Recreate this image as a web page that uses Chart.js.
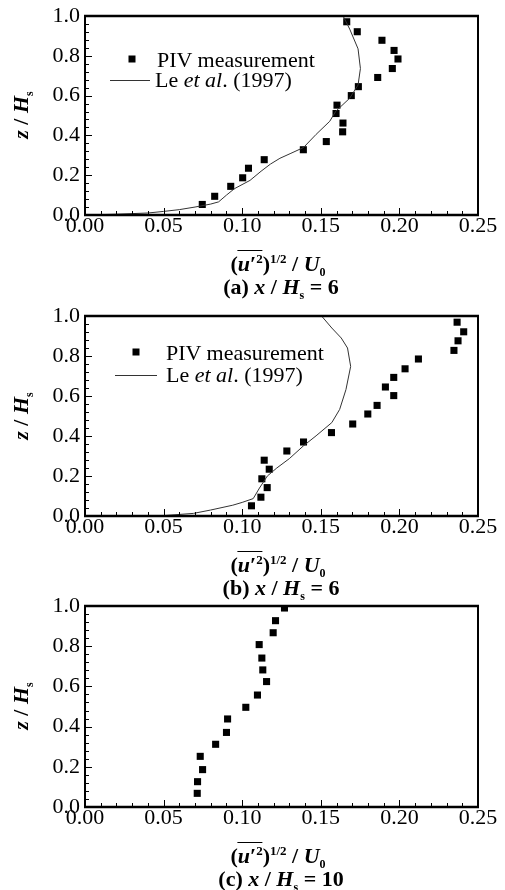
<!DOCTYPE html>
<html>
<head>
<meta charset="utf-8">
<script src="https://cdn.jsdelivr.net/npm/chart.js@4.4.0/dist/chart.umd.min.js"></script>
<style>
  html, body { margin: 0; padding: 0; background: #fff; }
  #page { position: relative; width: 505px; height: 890px; overflow: hidden; font-family: 'Liberation Serif', 'Times New Roman', serif; color: #000; }
  canvas { position: absolute; left: 0; }
  .lbl { position: absolute; white-space: nowrap; transform: translate(-50%, -50%); font-weight: bold; font-size: 22px; line-height: 1; }
  .lbl sub { font-size: 12px; vertical-align: -5px; }
  .lbl sup { font-size: 13px; vertical-align: 8px; }
  .ov { display: inline-block; border-top: 1.5px solid #000; padding-top: 1px; line-height: 1; }
  .ylab { transform: translate(-50%, -50%) rotate(-90deg); }
  .leg { position: absolute; font-size: 22px; line-height: 1; white-space: nowrap; transform: translateY(-50%); }
  .sq { position: absolute; width: 7px; height: 7px; background: #000; transform: translate(-50%, -50%); }
  .ln { position: absolute; height: 1px; background: #333; }
</style>
</head>
<body>
<div id="page">
  <canvas id="chartA" width="505" height="300" style="top:0px"></canvas>
  <canvas id="chartB" width="505" height="290" style="top:300px"></canvas>
  <canvas id="chartC" width="505" height="300" style="top:590px"></canvas>

  <!-- legends -->
  <div class="sq" style="left:132px; top:59px"></div>
  <div class="leg" style="left:157px; top:60px">PIV measurement</div>
  <div class="ln" style="left:110px; top:80px; width:40px"></div>
  <div class="leg" style="left:155px; top:80px">Le <i>et al</i>. (1997)</div>

  <div class="sq" style="left:136px; top:352px"></div>
  <div class="leg" style="left:166px; top:353px">PIV measurement</div>
  <div class="ln" style="left:115px; top:375px; width:42px"></div>
  <div class="leg" style="left:166px; top:375px">Le <i>et al</i>. (1997)</div>

  <!-- axis titles and captions -->
  <div class="lbl ylab" style="left:22px; top:115px"><i>z</i> / <i>H</i><sub>s</sub></div>
  <div class="lbl" style="left:278px; top:264px">(<span class="ov"><i>u</i>′<sup>2</sup></span>)<sup>1/2</sup> / <i>U</i><sub>0</sub></div>
  <div class="lbl" style="left:281px; top:288px">(a) <i>x</i> / <i>H</i><sub>s</sub> = 6</div>

  <div class="lbl ylab" style="left:22px; top:416px"><i>z</i> / <i>H</i><sub>s</sub></div>
  <div class="lbl" style="left:278px; top:565px">(<span class="ov"><i>u</i>′<sup>2</sup></span>)<sup>1/2</sup> / <i>U</i><sub>0</sub></div>
  <div class="lbl" style="left:281px; top:589px">(b) <i>x</i> / <i>H</i><sub>s</sub> = 6</div>

  <div class="lbl ylab" style="left:22px; top:706px"><i>z</i> / <i>H</i><sub>s</sub></div>
  <div class="lbl" style="left:278px; top:856px">(<span class="ov"><i>u</i>′<sup>2</sup></span>)<sup>1/2</sup> / <i>U</i><sub>0</sub></div>
  <div class="lbl" style="left:281px; top:880px">(c) <i>x</i> / <i>H</i><sub>s</sub> = 10</div>
</div>

<script>
// (a) x/Hs = 6
const pivAx = [0.0746, 0.0825, 0.0927, 0.1003, 0.1040, 0.1140, 0.1389, 0.1535, 0.1639, 0.1641, 0.1597,
  0.1603, 0.1694, 0.1739, 0.1862, 0.1955, 0.1991, 0.1966, 0.1889, 0.1732, 0.1665];
const pivAz = [0.053, 0.094, 0.144, 0.187, 0.235, 0.278, 0.328, 0.369, 0.418, 0.462, 0.510,
  0.552, 0.600, 0.645, 0.691, 0.736, 0.784, 0.827, 0.878, 0.921, 0.971];
const leAx = [0.000, 0.020, 0.040, 0.050, 0.060, 0.070, 0.080, 0.085, 0.090, 0.095, 0.105, 0.112, 0.118,
  0.124, 0.131, 0.139, 0.147, 0.1557, 0.1595, 0.1684, 0.1737, 0.1752, 0.1737, 0.1684, 0.1642];
const leAz = [0.000, 0.004, 0.010, 0.018, 0.027, 0.040, 0.055, 0.066, 0.100, 0.132, 0.174, 0.220, 0.256,
  0.285, 0.310, 0.339, 0.405, 0.471, 0.521, 0.587, 0.653, 0.736, 0.835, 0.934, 1.000];

// (b) x/Hs = 6
const pivBx = [0.1059, 0.1119, 0.1159, 0.1125, 0.1172, 0.1140, 0.1284, 0.1390, 0.1568, 0.1703, 0.1799,
  0.1858, 0.1964, 0.1911, 0.1964, 0.2036, 0.2121, 0.2347, 0.2373, 0.2409, 0.2367];
const pivBz = [0.051, 0.094, 0.142, 0.186, 0.234, 0.279, 0.325, 0.370, 0.417, 0.460, 0.510,
  0.553, 0.602, 0.645, 0.693, 0.736, 0.785, 0.828, 0.876, 0.921, 0.969];
const leBx = [0.000, 0.050, 0.069, 0.080, 0.094, 0.100, 0.107, 0.111, 0.116, 0.122, 0.130, 0.139, 0.147,
  0.157, 0.162, 0.166, 0.169, 0.167, 0.163, 0.157, 0.1505];
const leBz = [0.000, 0.002, 0.013, 0.030, 0.054, 0.068, 0.087, 0.140, 0.200, 0.240, 0.287, 0.351, 0.401,
  0.467, 0.533, 0.632, 0.748, 0.840, 0.890, 0.940, 1.000];

// (c) x/Hs = 10
const pivCx = [0.0714, 0.0716, 0.0748, 0.0733, 0.0831, 0.0900, 0.0907, 0.1023, 0.1097, 0.1155, 0.1131,
  0.1125, 0.1108, 0.1197, 0.1212, 0.1269];
const pivCz = [0.068, 0.126, 0.186, 0.252, 0.312, 0.371, 0.438, 0.496, 0.557, 0.624, 0.682,
  0.741, 0.808, 0.867, 0.927, 0.990];

const xTicks = [0, 0.05, 0.10, 0.15, 0.20, 0.25];
const zTicks = [0, 0.2, 0.4, 0.6, 0.8, 1.0];

const FONT = "'Liberation Serif', 'Times New Roman', serif";

const toPoints = (xs, zs) => xs.map((x, i) => ({ x, y: zs[i] }));

// frame + inward major/minor ticks on the bottom and left axes
const frameTicks = {
  id: 'frameTicks',
  afterDraw(chart) {
    const { ctx, chartArea: a, scales: { x, y } } = chart;
    ctx.save();
    ctx.strokeStyle = '#000';
    ctx.lineWidth = 1;
    ctx.beginPath();
    for (let i = 0; i <= 25; i += 1) {
      const px = Math.round(x.getPixelForValue(i / 100)) + 0.5;
      const len = i % 5 === 0 ? 7 : 4;
      ctx.moveTo(px, a.bottom);
      ctx.lineTo(px, a.bottom - len);
    }
    for (let i = 0; i <= 25; i += 1) {
      const py = Math.round(y.getPixelForValue(i * 0.04)) + 0.5;
      const len = i % 5 === 0 ? 7 : 4;
      ctx.moveTo(a.left, py);
      ctx.lineTo(a.left + len, py);
    }
    ctx.stroke();

    ctx.lineWidth = 2.5;
    ctx.beginPath();
    ctx.moveTo(a.left - 1, a.top);
    ctx.lineTo(a.right + 1, a.top);
    ctx.moveTo(a.left - 1, a.bottom);
    ctx.lineTo(a.right + 1, a.bottom);
    ctx.stroke();
    ctx.lineWidth = 2;
    ctx.beginPath();
    ctx.moveTo(a.left, a.top);
    ctx.lineTo(a.left, a.bottom);
    ctx.moveTo(a.right, a.top);
    ctx.lineTo(a.right, a.bottom);
    ctx.stroke();
    ctx.restore();
  },
};

function makePanel(id, padTop, axisHeight, piv, le) {
  const datasets = [];
  if (le) {
    datasets.push({
      label: 'Le et al. (1997)',
      data: le,
      showLine: true,
      borderColor: '#333',
      borderWidth: 1,
      pointRadius: 0,
      tension: 0,
    });
  }
  datasets.push({
    label: 'PIV measurement',
    data: piv,
    pointStyle: 'rect',
    pointRadius: 5,
    pointBorderWidth: 0,
    backgroundColor: '#000',
    borderColor: '#000',
  });

  const tickFont = { family: FONT, size: 22, lineHeight: 1 };

  // eslint-disable-next-line no-new
  new Chart(document.getElementById(id), {
    type: 'scatter',
    data: { datasets },
    options: {
      responsive: false,
      animation: false,
      layout: { padding: { top: padTop, right: 27, left: 0, bottom: 0 } },
      plugins: { legend: { display: false }, tooltip: { enabled: false } },
      scales: {
        x: {
          type: 'linear',
          min: 0,
          max: 0.25,
          afterFit(scale) { scale.height = axisHeight; },
          afterBuildTicks(scale) { scale.ticks = xTicks.map((v) => ({ value: v })); },
          ticks: {
            callback: (v) => Number(v).toFixed(2),
            font: tickFont,
            color: '#000',
            padding: 0,
            maxRotation: 0,
            autoSkip: false,
          },
          grid: { display: false, drawTicks: false },
          border: { display: false },
        },
        y: {
          min: 0,
          max: 1,
          afterFit(scale) { scale.width = 85; },
          afterBuildTicks(scale) { scale.ticks = zTicks.map((v) => ({ value: v })); },
          ticks: {
            callback: (v) => Number(v).toFixed(1),
            font: tickFont,
            color: '#000',
            padding: 5,
          },
          grid: { display: false, drawTicks: false },
          border: { display: false },
        },
      },
    },
    plugins: [frameTicks],
  });
}

makePanel('chartA', 13, 85, toPoints(pivAx, pivAz), toPoints(leAx, leAz));
makePanel('chartB', 16, 74, toPoints(pivBx, pivBz), toPoints(leBx, leBz));
makePanel('chartC', 16, 83, toPoints(pivCx, pivCz), null);
</script>
</body>
</html>
